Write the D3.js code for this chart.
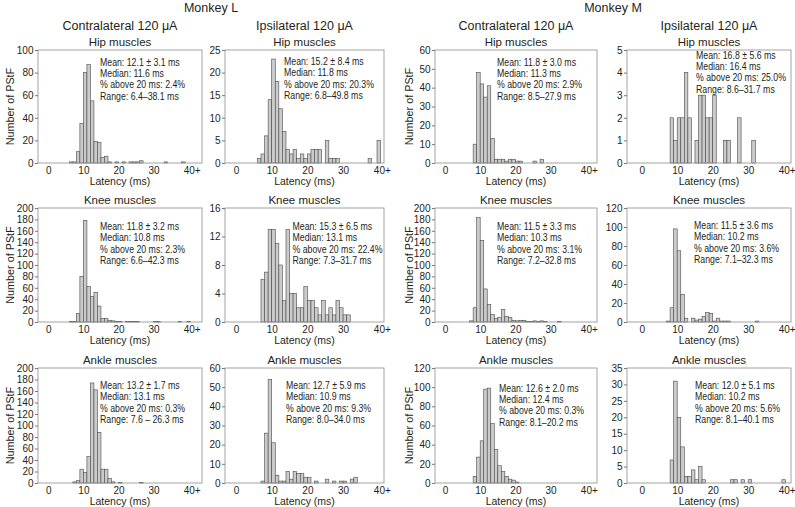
<!DOCTYPE html>
<html><head><meta charset="utf-8">
<script src="https://cdn.jsdelivr.net/npm/d3@7"></script>
<style>
body{margin:0;background:#fff}
svg text{font-family:"Liberation Sans",Arial,sans-serif;fill:#231f20}
</style>
</head><body><svg id="c" width="795" height="507"></svg>
<script>
// ---------- data ----------
const monkeys = ["Monkey L", "Monkey M"];
const conditions = ["Contralateral 120 μA", "Ipsilateral 120 μA"];
const muscles = ["Hip muscles", "Knee muscles", "Ankle muscles"];
const xTickValues = [0, 10, 20, 30, 40];
const xTickLabels = ["0", "10", "20", "30", "40+"];
const yLabel = "Number of PStF";
const xLabel = "Latency (ms)";

// [latency bin (ms), count]; bin 40 = "40+" overflow
const L_contra_hip = [[6,1],[7,1],[8,10],[9,35],[10,80],[11,87],[12,55],[13,19],[14,18],[15,5],[16,6],[17,1],[19,1],[21,1],[23,1],[24,1],[25,1],[26,2],[33,1],[38,1]];
const L_ipsi_hip = [[6,1],[7,2],[8,6],[9,14],[10,23],[11,18],[12,12],[13,7],[14,3],[15,2],[16,3],[17,1],[18,2],[19,1],[20,2],[21,3],[22,3],[23,3],[25,5],[26,1],[27,1],[28,1],[37,1],[40,5]];
const M_contra_hip = [[8,10],[9,48],[10,42],[11,35],[12,41],[13,13],[14,2],[15,2],[16,2],[17,1],[18,2],[19,2],[20,1],[21,1],[25,1],[27,2]];
const M_ipsi_hip = [[8,2],[9,1],[10,2],[11,2],[12,4],[13,2],[15,1],[16,3],[17,3],[18,2],[19,2],[20,3],[23,1],[24,1],[27,2],[31,1]];
const L_contra_knee = [[6,1],[7,1],[8,15],[9,80],[10,178],[11,62],[12,45],[13,52],[14,28],[15,6],[16,6],[17,3],[18,2],[19,1],[20,1],[22,1],[23,1],[24,1],[25,1],[30,1],[31,1],[37,1],[40,1]];
const L_ipsi_knee = [[7,6],[8,7],[9,13],[10,13],[11,11],[12,8],[13,3],[14,13],[15,4],[16,4],[17,2],[18,2],[19,5],[20,3],[21,3],[22,2],[23,1],[24,3],[25,1],[26,2],[27,1],[28,3],[29,2],[30,1],[31,1]];
const M_contra_knee = [[7,2],[8,25],[9,183],[10,143],[11,58],[12,31],[13,13],[14,6],[15,8],[16,22],[17,10],[18,8],[19,3],[20,2],[21,3],[22,3],[23,1],[24,1],[25,2],[26,1],[27,2],[28,1],[32,1]];
const M_ipsi_knee = [[7,1],[8,15],[9,98],[10,75],[11,29],[12,4],[14,4],[15,2],[16,3],[17,6],[18,10],[19,9],[20,1],[21,4],[22,1],[23,1],[24,1],[32,1]];
const L_contra_ankle = [[7,2],[8,4],[9,24],[10,18],[11,46],[12,174],[13,162],[14,88],[15,24],[16,24],[17,8],[18,2],[20,1],[26,1]];
const L_ipsi_ankle = [[7,1],[8,26],[9,54],[10,21],[11,4],[12,1],[13,1],[14,6],[15,2],[16,6],[17,5],[18,5],[19,3],[20,3],[22,1],[25,2],[27,1],[29,1],[30,1],[32,2],[33,3]];
const M_contra_ankle = [[8,7],[9,27],[10,44],[11,98],[12,99],[13,62],[14,35],[15,18],[16,12],[17,7],[18,4],[19,3],[20,1]];
const M_ipsi_ankle = [[8,7],[9,31],[10,20],[11,11],[12,2],[13,2],[14,4],[15,1],[16,5],[17,1],[25,1],[26,1],[28,1],[30,1],[40,1]];

const yMaxes = [100, 25, 60, 5, 200, 16, 200, 120, 200, 60, 120, 35];
const yTickSteps = [20, 5, 10, 1, 20, 4, 20, 20, 20, 10, 20, 5];

const stats = [
  ["Mean: 12.1 ± 3.1 ms","Median: 11.6 ms","% above 20 ms: 2.4%","Range: 6.4–38.1 ms"],
  ["Mean: 15.2 ± 8.4 ms","Median: 11.8 ms","% above 20 ms: 20.3%","Range: 6.8–49.8 ms"],
  ["Mean: 11.8 ± 3.0 ms","Median: 11.3 ms","% above 20 ms: 2.9%","Range: 8.5–27.9 ms"],
  ["Mean: 16.8 ± 5.6 ms","Median: 16.4 ms","% above 20 ms: 25.0%","Range: 8.6–31.7 ms"],
  ["Mean: 11.8 ± 3.2 ms","Median: 10.8 ms","% above 20 ms: 2.3%","Range: 6.6–42.3 ms"],
  ["Mean: 15.3 ± 6.5 ms","Median: 13.1 ms","% above 20 ms: 22.4%","Range: 7.3–31.7 ms"],
  ["Mean: 11.5 ± 3.3 ms","Median: 10.3 ms","% above 20 ms: 3.1%","Range: 7.2–32.8 ms"],
  ["Mean: 11.5 ± 3.6 ms","Median: 10.2 ms","% above 20 ms: 3.6%","Range: 7.1–32.3 ms"],
  ["Mean: 13.2 ± 1.7 ms","Median: 13.1 ms","% above 20 ms: 0.3%","Range: 7.6 – 26.3 ms"],
  ["Mean: 12.7 ± 5.9 ms","Median: 10.9 ms","% above 20 ms: 9.3%","Range: 8.0–34.0 ms"],
  ["Mean: 12.6 ± 2.0 ms","Median: 12.4 ms","% above 20 ms: 0.3%","Range: 8.1–20.2 ms"],
  ["Mean: 12.0 ± 5.1 ms","Median: 10.2 ms","% above 20 ms: 5.6%","Range: 8.1–40.1 ms"]
];

const panelData = [
  L_contra_hip, L_ipsi_hip, M_contra_hip, M_ipsi_hip,
  L_contra_knee, L_ipsi_knee, M_contra_knee, M_ipsi_knee,
  L_contra_ankle, L_ipsi_ankle, M_contra_ankle, M_ipsi_ankle
];

// ---------- layout ----------
const cols = [
  {left:38, right:202, x0:48.3, x40:188.7},
  {left:225, right:384, x0:236, x40:378.8},
  {left:435, right:597, x0:445, x40:585.8},
  {left:627, right:791, x0:641.7, x40:783.7}
];
const rows = [{top:50, bottom:163}, {top:208, bottom:322}, {top:368, bottom:483}];
const statPos = [
  [100,65.5],[284,65],[497,65.5],[696,58.5],
  [100,230],[292.5,230],[497,230],[694,229],
  [100,389],[286,389],[499,391.5],[695,389]
];

const svg = d3.select("#c");

// top headers
[[monkeys[0], (cols[0].left+cols[1].right)/2], [monkeys[1], (cols[2].left+cols[3].right)/2]].forEach(([t,x]) => {
  svg.append("text").attr("x", x).attr("y", 12).attr("text-anchor","middle")
    .attr("font-size", 12.5).text(t);
});
cols.forEach((c,i) => {
  svg.append("text").attr("x", (c.left+c.right)/2).attr("y", 30).attr("text-anchor","middle")
    .attr("font-size", 12.5).text(conditions[i % 2]);
});

panelData.forEach((data, i) => {
  const c = cols[i % 4], r = rows[Math.floor(i / 4)];
  const x = d3.scaleLinear().domain([0, 40]).range([c.x0, c.x40]);
  const y = d3.scaleLinear().domain([0, yMaxes[i]]).range([r.bottom, r.top]);
  const g = svg.append("g");

  // muscle title
  g.append("text").attr("x", (c.left + c.right) / 2).attr("y", r.top - 4)
    .attr("text-anchor", "middle").attr("font-size", 11.5).text(muscles[Math.floor(i / 4)]);

  // bars
  g.selectAll("rect.bar").data(data).enter().append("rect").attr("class","bar")
    .attr("x", d => d[0] >= 40 ? x(d[0] - 0.5) : x(d[0]))
    .attr("width", x(1) - x(0))
    .attr("y", d => y(d[1]))
    .attr("height", d => y(0) - y(d[1]))
    .attr("fill", "#cbcbcb").attr("stroke", "#4a4a4a").attr("stroke-width", 0.6);

  // frame
  g.append("rect").attr("x", c.left).attr("y", r.top)
    .attr("width", c.right - c.left).attr("height", r.bottom - r.top)
    .attr("fill", "none").attr("stroke", "#9a9a9a").attr("stroke-width", 0.9);

  // y axis
  const yAxis = d3.axisLeft(y).tickValues(d3.range(0, yMaxes[i] + 0.001, yTickSteps[i]))
    .tickSize(3).tickPadding(1.5).tickFormat(d3.format("d"));
  const ya = g.append("g").attr("transform", `translate(${c.left},0)`).call(yAxis);
  ya.select(".domain").remove();
  ya.selectAll("line").attr("stroke", "#777");
  ya.selectAll("text").attr("font-size", 10).attr("font-family", null).attr("fill", "#231f20");

  // x axis
  const xAxis = d3.axisBottom(x).tickValues(xTickValues).tickSize(0).tickPadding(3.5)
    .tickFormat((d, k) => xTickLabels[k]);
  const xa = g.append("g").attr("transform", `translate(0,${r.bottom})`).call(xAxis);
  xa.select(".domain").remove();
  xa.selectAll("text").attr("font-size", 10).attr("font-family", null).attr("fill", "#231f20")
    .attr("dx", (d) => d === 40 ? "0.3em" : 0);

  // x label
  g.append("text").attr("x", (c.left + c.right) / 2).attr("y", r.bottom + 21.5)
    .attr("text-anchor", "middle").attr("font-size", 10.5).text(xLabel);

  // y label on col 1 and col 3
  if (i % 4 === 0 || i % 4 === 2) {
    const xc = i % 4 === 0 ? 13.5 : 413;
    g.append("text").attr("transform", `translate(${xc},${(r.top + r.bottom) / 2}) rotate(-90)`)
      .attr("text-anchor", "middle").attr("font-size", 10.8).text(yLabel);
  }

  // stats (condensed lettering like the original)
  const [sx, sy] = statPos[i];
  const sg = g.append("g").attr("transform", `translate(${sx},${sy}) scale(0.85,1)`);
  stats[i].forEach((line, k) => {
    sg.append("text").attr("x", 0).attr("y", k * 11.4)
      .attr("font-size", 10.3).text(line);
  });
});
</script>
</body></html>
